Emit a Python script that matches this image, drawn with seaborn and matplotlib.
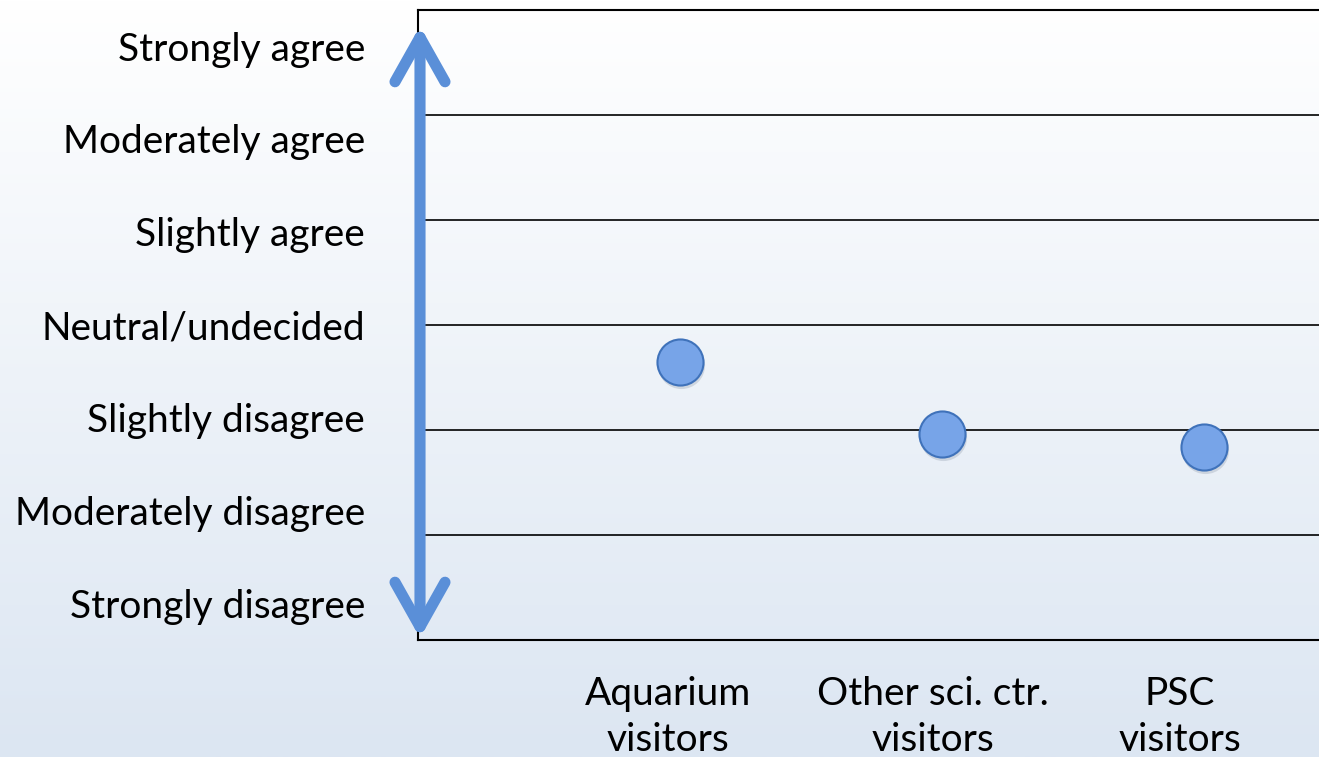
import matplotlib
matplotlib.use('Agg')
import matplotlib.pyplot as plt
import seaborn as sns
import numpy as np
import pandas as pd

# Data
groups = ['Aquarium\nvisitors', 'Other sci. ctr.\nvisitors', 'PSC\nvisitors']
scores = [3.65, 2.96, 2.84]
scale_labels = ['Strongly disagree', 'Moderately disagree', 'Slightly disagree',
                'Neutral/undecided', 'Slightly agree', 'Moderately agree',
                'Strongly agree']

sns.set_style('white')
plt.rcParams['font.family'] = ['Lato', 'DejaVu Sans']
plt.rcParams['text.color'] = 'black'
plt.rcParams['xtick.color'] = 'black'
plt.rcParams['ytick.color'] = 'black'

fig = plt.figure(figsize=(13.19, 7.57), dpi=100)

# background gradient (white -> light blue)
bg = fig.add_axes([0, 0, 1, 1], zorder=-10)
top = np.array([255, 255, 255]) / 255
bot = np.array([220, 230, 242]) / 255
t = np.linspace(0, 1, 256)[:, None]
grad = (top * (1 - t) + bot * t)[:, None, :]
bg.imshow(grad, aspect='auto', extent=[0, 1, 0, 1], origin='upper')
bg.axis('off')

# main axes: x from 418px to right edge, y from 10px to 640px
ax = fig.add_axes([418 / 1319, (757 - 640) / 757, 1 - 418 / 1319, 630 / 757])
ax.set_facecolor('none')

df = pd.DataFrame({'pos': np.arange(1, len(groups) + 1), 'score': scores})

# drop shadow under markers
ax.scatter(df['pos'] + 0.006, df['score'] - 0.03, s=1150, color='#8a96a8',
           alpha=0.3, linewidths=0, zorder=3)
sns.scatterplot(data=df, x='pos', y='score', ax=ax, s=1100, color='#77a4e8',
                edgecolor='#3f72ba', linewidth=1.5, zorder=4, legend=False)

ax.set_xlim(0, 3.44)
ax.set_ylim(1, 7)

# horizontal gridlines
for yv in range(2, 7):
    ax.axhline(yv, color='black', lw=1.2, zorder=1)

for side in ['left', 'top', 'bottom']:
    ax.spines[side].set_color('black')
    ax.spines[side].set_linewidth(1.5)
ax.spines['right'].set_visible(False)

# category labels under the axis
ax.set_xticks([0.955, 1.965, 2.91])
ax.set_xticklabels(groups, fontsize=28, linespacing=1.33, va='top')
ax.tick_params(axis='x', length=0, pad=26)

# scale labels on the left
ax.set_yticks(np.linspace(1.352, 6.657, len(scale_labels)))
ax.set_yticklabels(scale_labels, fontsize=28)
ax.tick_params(axis='y', length=0, pad=38)
ax.set_xlabel('')
ax.set_ylabel('')

# double-headed arrow along the scale
ax.annotate('', xy=(420, 757 - 26), xytext=(420, 757 - 638),
            xycoords='figure pixels', textcoords='figure pixels',
            arrowprops=dict(arrowstyle='<->, head_length=3.2, head_width=1.8',
                            lw=8, color='#5a8fd8', shrinkA=0, shrinkB=0,
                            capstyle='round', joinstyle='round'),
            zorder=6)

fig.savefig('out.png', dpi=100)
